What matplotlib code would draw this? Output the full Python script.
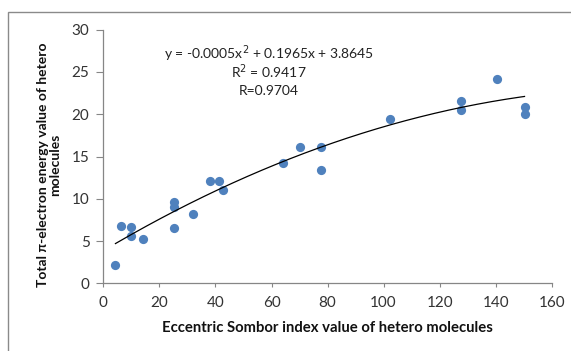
import matplotlib
matplotlib.use("Agg")
import matplotlib.pyplot as plt
import matplotlib.patches as mpatches
import numpy as np

plt.rcParams['font.family'] = ['Lato', 'DejaVu Sans']

# Data
x_vals = [4.3, 6.4, 9.9, 9.9, 14.2, 25.2, 25.2, 25.2, 32.1, 38.2, 41.3, 42.6,
          64.0, 70.3, 77.5, 77.5, 102.2, 127.8, 127.8, 140.6, 150.3, 150.3]
y_vals = [2.2, 6.8, 6.7, 5.65, 5.2, 9.56, 9.0, 6.6, 8.14, 12.1, 12.1, 11.0,
          14.25, 16.1, 16.1, 13.4, 19.4, 21.6, 20.45, 24.2, 20.9, 20.0]
# Trendline coefficients as shown in the chart
coef_a, coef_b, coef_c = -0.0005, 0.1965, 3.8645
eq_lines = ["y = -0.0005x$^2$ + 0.1965x + 3.8645", "R$^2$ = 0.9417", "R=0.9704"]
x_ticks = [0, 20, 40, 60, 80, 100, 120, 140, 160]
y_ticks = [0, 5, 10, 15, 20, 25, 30]
x_label = "Eccentric Sombor index value of hetero molecules"
y_label = "Total π-electron energy value of hetero\nmolecules"

fig = plt.figure(figsize=(5.71, 3.51), dpi=100)
ax = fig.add_axes([103.4/571, 1-283.3/351, (551.7-103.4)/571, (283.3-29.7)/351])

ax.scatter(x_vals, y_vals, s=44, color='#4F81BD', zorder=3, linewidths=0)
xf = np.linspace(min(x_vals), max(x_vals), 200)
ax.plot(xf, coef_a*xf**2 + coef_b*xf + coef_c, color='black', lw=0.9, zorder=4)

ax.set_xlim(0, 160)
ax.set_ylim(0, 30)
ax.set_xticks(x_ticks)
ax.set_yticks(y_ticks)
for s in ['top', 'right']:
    ax.spines[s].set_visible(False)
for s in ['left', 'bottom']:
    ax.spines[s].set_color('#868686')
    ax.spines[s].set_linewidth(0.9)
ax.tick_params(axis='x', length=3, pad=6.5, color='#868686', labelsize=11, labelcolor='#333333')
ax.tick_params(axis='y', length=5, pad=5, color='#868686', labelsize=11, labelcolor='#333333')

fig.text(327.5/571, 1-328/351, x_label, ha='center', va='center', fontsize=10.7,
         fontweight='bold', color='#111111')
fig.text(49/571, 1-165/351, y_label, ha='center', va='center', rotation=90,
         fontsize=10, fontweight='bold', color='#111111', linespacing=1.05,
         multialignment='center')

ys = [53.3, 71.7, 90.7]
for t, yy in zip(eq_lines, ys):
    fig.text(268.6/571, 1-yy/351, t, ha='center', va='center', fontsize=10, color='#222222')

rect = mpatches.Rectangle((8.3/571, -0.05), 1.0, 1-12.3/351+0.05, transform=fig.transFigure,
                          fill=False, edgecolor='#8a8a8a', lw=1.0, clip_on=False)
fig.patches.append(rect)

fig.savefig("out.png", dpi=100)
